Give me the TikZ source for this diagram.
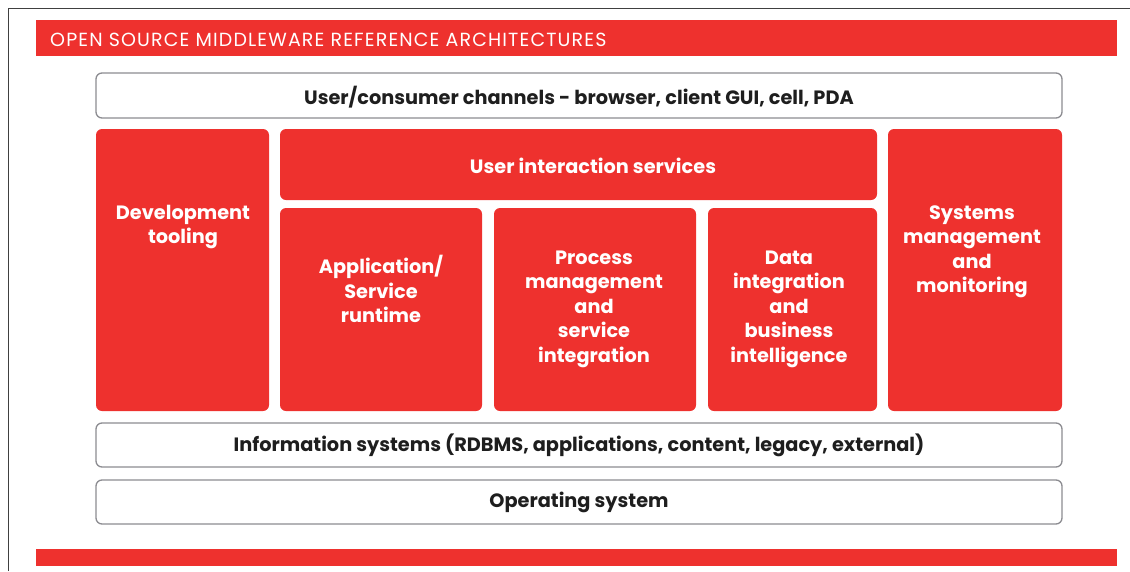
\documentclass[tikz,border=0pt]{standalone}
\usepackage{fontspec}
\setmainfont{Poppins}
\newfontfamily\headfont[LetterSpace=6]{Poppins}
\definecolor{ored}{RGB}{238,49,46}
\definecolor{ogray}{RGB}{140,140,145}
\definecolor{otext}{RGB}{30,30,30}
\tikzset{
  redbox/.style={fill=ored, draw=none, rounded corners=6pt},
  whitebox/.style={fill=white, draw=ogray, line width=1.3pt, rounded corners=6pt},
  bar/.style={fill=ored, draw=none},
  wlabel/.style={text=white, font=\fontsize{19.3}{24.5}\selectfont\bfseries, align=center, inner sep=0pt},
  blabel/.style={text=otext, font=\fontsize{19.3}{24.5}\selectfont\bfseries, align=center, inner sep=0pt},
  hlabel/.style={text=white, font=\headfont\fontsize{19}{20}\selectfont, anchor=west, inner sep=0pt},
}
\begin{document}
\begin{tikzpicture}[x=1pt,y=-1pt]
\useasboundingbox (0,0) rectangle (1130,571);
\draw[color=black!75, line width=1.5pt] (8.5,571) -- (8.5,8.5) -- (1130,8.5);
% bars
\path[bar] (36,20) rectangle (1117,56);
\node[hlabel] (title) at (50,40) {OPEN SOURCE MIDDLEWARE REFERENCE ARCHITECTURES};
\path[bar] (36,549) rectangle (1117,566);
% white layers
\draw[whitebox] (96,73) rectangle (1062,118);
\node[blabel] (chan) at (579,97) {User/consumer channels - browser, client GUI, cell, PDA};
\draw[whitebox] (96,423) rectangle (1062,467);
\node[blabel] (info) at (579,445) {Information systems (RDBMS, applications, content, legacy, external)};
\draw[whitebox] (96,480) rectangle (1062,524);
\node[blabel] (os) at (579,502) {Operating system};
% red boxes
\path[redbox] (96,129) rectangle (269,411);
\node[wlabel] (dev) at (183,227) {Development\\tooling};
\path[redbox] (280,129) rectangle (877,200);
\node[wlabel] (uis) at (593,166) {User interaction services};
\path[redbox] (280,208) rectangle (482,411);
\node[wlabel] (app) at (381,289) {Application/\\Service\\runtime};
\path[redbox] (494,208) rectangle (696,411);
\node[wlabel] (proc) at (594,309) {Process\\management\\and\\service\\integration};
\path[redbox] (708,208) rectangle (877,411);
\node[wlabel] (data) at (789,309) {Data\\integration\\and\\business\\intelligence};
\path[redbox] (888,129) rectangle (1062,411);
\node[wlabel] (sys) at (972,252) {Systems\\management\\and\\monitoring};
\end{tikzpicture}
\end{document}
